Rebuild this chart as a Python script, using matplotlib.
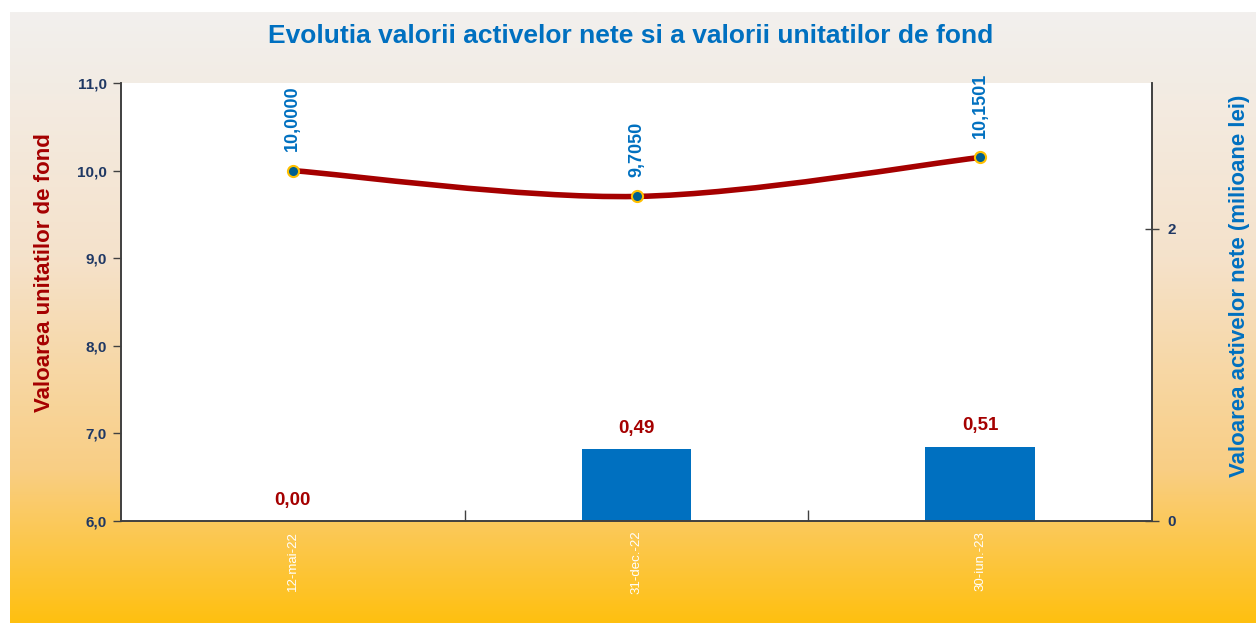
import numpy as np
import matplotlib
matplotlib.use("Agg")
from matplotlib import pyplot as plt
from matplotlib.path import Path
from matplotlib.patches import PathPatch
from matplotlib.colors import LinearSegmentedColormap

dates = ["12-mai-22", "31-dec.-22", "30-iun.-23"]
unit_values = [10.0000, 9.7050, 10.1501]
unit_labels = ["10,0000", "9,7050", "10,1501"]
net_assets = [0.00, 0.49, 0.51]
asset_labels = ["0,00", "0,49", "0,51"]

left_ticks = [6, 7, 8, 9, 10, 11]
left_tick_labels = ["6,0", "7,0", "8,0", "9,0", "10,0", "11,0"]
right_ticks = [0, 2]

BLUE = "#0070c0"
RED = "#a50000"
NAVY = "#1f3864"
plt.rcParams["font.family"] = ["Liberation Sans", "DejaVu Sans"]

W, H = 1256, 623
fig = plt.figure(figsize=(W / 100, H / 100), dpi=100)
fig.patch.set_facecolor("white")

# gradient panel behind everything
bg = fig.add_axes([10 / W, 0, (W - 10) / W, (H - 12) / H])
cmap = LinearSegmentedColormap.from_list(
    "panel", [(0, "#f2f0ee"), (0.4, "#f5e2cb"), (0.75, "#f9ce84"), (1.0, "#ffc010")])
bg.imshow(np.linspace(0, 1, 256).reshape(-1, 1), cmap=cmap, aspect="auto",
          extent=[0, 1, 1, 0])
bg.axis("off")

ax = fig.add_axes([121 / W, 1 - 521 / H, 1031 / W, 438 / H])
ax2 = ax.twinx()
ax.set_zorder(ax2.get_zorder() + 1)
ax.patch.set_visible(False)
ax2.patch.set_visible(True)
ax2.patch.set_facecolor("white")

x = np.arange(len(dates))

# bars: net assets on right axis
ax2.bar(x, net_assets, width=0.32, color=BLUE, zorder=2)
for xi, v, lab in zip(x, net_assets, asset_labels):
    ax2.annotate(lab, (xi, v), xytext=(0, 9), textcoords="offset points",
                 ha="center", va="bottom", color=RED, fontsize=13.5, fontweight="bold")
ax2.set_ylim(0, 3)
ax2.set_yticks(right_ticks)
ax2.set_yticklabels([str(t) for t in right_ticks])
ax2.tick_params(axis="y", direction="inout", length=10, width=1, colors="#404040",
                labelcolor=NAVY, labelsize=11, pad=6)
for t in ax2.get_yticklabels():
    t.set_fontweight("bold")

# smoothed line (Excel-like bezier) through unit values on left axis
verts = [(x[0], unit_values[0])]
codes = [Path.MOVETO]
pts = list(zip(x, unit_values))
for i in range(len(pts) - 1):
    p0 = np.array(pts[max(i - 1, 0)])
    p1 = np.array(pts[i])
    p2 = np.array(pts[i + 1])
    p3 = np.array(pts[min(i + 2, len(pts) - 1)])
    c1 = p1 + (p2 - p0) / 6
    c2 = p2 - (p3 - p1) / 6
    verts += [tuple(c1), tuple(c2), tuple(p2)]
    codes += [Path.CURVE4] * 3
ax.add_patch(PathPatch(Path(verts, codes), facecolor="none", edgecolor=RED,
                       lw=4, capstyle="round", zorder=3))
ax.plot(x, unit_values, ls="none", marker="o", ms=8, mfc="#005f8f", mec="#ffc000",
        mew=1.5, zorder=4)
for xi, v, lab in zip(x, unit_values, unit_labels):
    ax.annotate(lab, (xi, v), xytext=(0, 14), textcoords="offset points",
                ha="center", va="bottom", rotation=90, color=BLUE,
                fontsize=13, fontweight="bold")

ax.set_xlim(-0.5, len(dates) - 0.5)
ax.set_ylim(6, 11)
ax.set_yticks(left_ticks)
ax.set_yticklabels(left_tick_labels)
ax.tick_params(axis="y", direction="out", length=6, width=1, colors="#404040",
               labelcolor=NAVY, labelsize=11, pad=4)
for t in ax.get_yticklabels():
    t.set_fontweight("bold")

ax.set_xticks(x)
ax.set_xticklabels(dates, rotation=90, color="white", fontsize=9.5)
ax.set_xticks(x[:-1] + 0.5, minor=True)
ax.tick_params(axis="x", which="major", length=0, pad=7)
ax.tick_params(axis="x", which="minor", direction="in", length=8, width=1, color="#404040")

for a in (ax, ax2):
    a.spines["top"].set_visible(False)
    for s in ("left", "right", "bottom"):
        a.spines[s].set_color("#404040")
        a.spines[s].set_linewidth(1.2)

fig.text(45 / W, 1 - 273 / H, "Valoarea unitatilor de fond", rotation=90,
         ha="center", va="center", color=RED, fontsize=16, fontweight="bold")
fig.text(1240 / W, 1 - 286 / H, "Valoarea activelor nete (milioane lei)", rotation=90,
         ha="center", va="center", color=BLUE, fontsize=16, fontweight="bold")
fig.text(631 / W, 1 - 36 / H, "Evolutia valorii activelor nete si a valorii unitatilor de fond",
         ha="center", va="center", color=BLUE, fontsize=19, fontweight="bold")

fig.savefig("out.png", dpi=100)
